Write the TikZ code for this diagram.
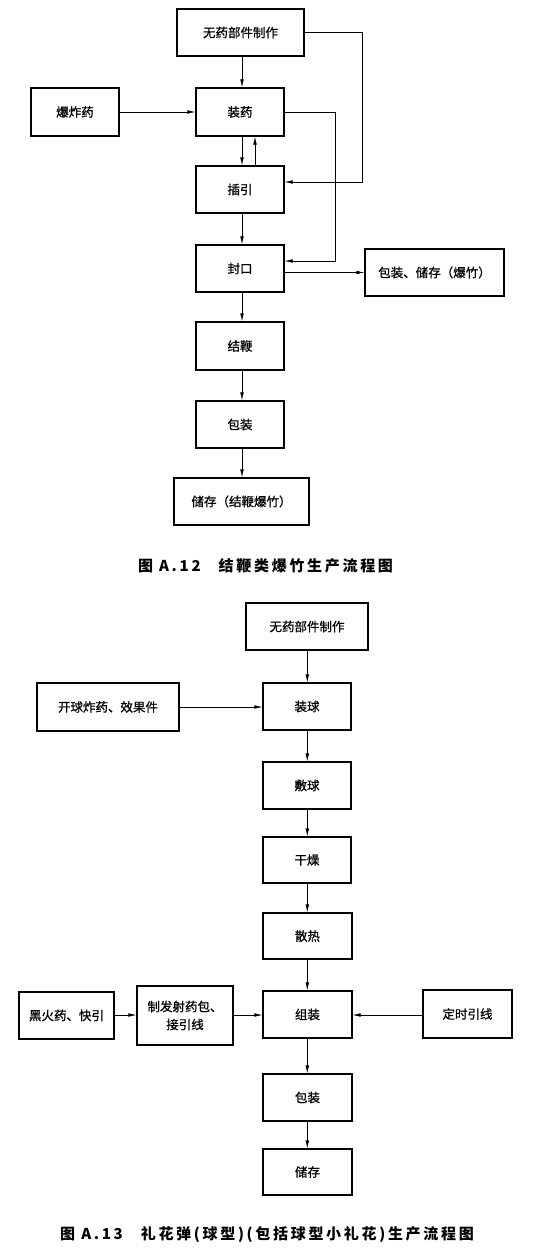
\documentclass[tikz,border=0pt]{standalone}
\usepackage{fontspec}
\newfontfamily\cjk[FakeBold=0.8]{Noto Sans CJK SC}
\newfontfamily\cjkcap[LetterSpace=18]{Noto Sans CJK SC}
\usetikzlibrary{arrows.meta,calc}
\begin{document}
\begin{tikzpicture}[x=1pt,y=-1pt,
  box/.style={draw,line width=1.1pt,inner sep=0pt,align=center,font=\cjk\fontsize{12.5}{18}\selectfont},
  arr/.style={line width=0.6pt,-{Latex[length=8pt,width=3.6pt]}},
  captext/.style={inner sep=0pt,font=\cjkcap\bfseries\fontsize{15}{18}\selectfont}]
\useasboundingbox (0,0) rectangle (554,1250);
\fill[white] (0,0) rectangle (554,1250);
% ---------- Figure A.12 ----------
\node[box,minimum width=127pt,minimum height=47pt] (t0) at (240.5,32.5) {无药部件制作};
\node[box,minimum width=88pt,minimum height=48pt] (t1) at (75,112) {爆炸药};
\node[box,minimum width=88pt,minimum height=48pt] (t2) at (240,112) {装药};
\node[box,minimum width=88pt,minimum height=47pt] (t3) at (240,189.5) {插引};
\node[box,minimum width=88pt,minimum height=47pt] (t4) at (240,268.5) {封口};
\node[box,minimum width=139pt,minimum height=47pt] (t5) at (434.5,272.5) {包装、储存（爆竹）};
\node[box,minimum width=88pt,minimum height=48pt] (t6) at (240,346) {结鞭};
\node[box,minimum width=88pt,minimum height=47pt] (t7) at (240,424.5) {包装};
\node[box,minimum width=135pt,minimum height=47pt] (t8) at (241.5,501.5) {储存（结鞭爆竹）};
\node[captext] (c1) at (265.5,566) {图 A.12\hspace{1.2em}结鞭类爆竹生产流程图};
\coordinate (r1) at (362,0);
\coordinate (r2) at (335,0);
\coordinate (t3e) at ([yshift=7.5pt]t3.east);
\coordinate (t4e) at ([yshift=7.5pt]t4.east);
\coordinate (col) at (242,0);
\coordinate (up) at (255,0);
\draw[arr] (col |- t0.south) -- (col |- t2.north);
\draw[arr] (t1.east) -- (t2.west);
\draw[arr] (col |- t2.south) -- (col |- t3.north);
\draw[arr] (up |- t3.north) -- (up |- t2.south);
\draw[arr] (col |- t3.south) -- (col |- t4.north);
\draw[arr] (col |- t4.south) -- (col |- t6.north);
\draw[arr] (col |- t6.south) -- (col |- t7.north);
\draw[arr] (col |- t7.south) -- (col |- t8.north);
\draw[arr] (t0.east) -- (t0.east -| r1) -- (r1 |- t3e) -- (t3e);
\draw[arr] (t2.east) -- (t2.east -| r2) -- (r2 |- t4e) -- (t4e);
\draw[arr] (t4.east |- t5.west) -- (t5.west);
% ---------- Figure A.13 ----------
\node[box,minimum width=122pt,minimum height=47pt] (b0) at (307,626.5) {无药部件制作};
\node[box,minimum width=142pt,minimum height=48pt] (b1) at (108,707) {开球炸药、效果件};
\node[box,minimum width=88pt,minimum height=47pt] (b2) at (307,706.5) {装球};
\node[box,minimum width=88pt,minimum height=47pt] (b3) at (307,785.5) {敷球};
\node[box,minimum width=88pt,minimum height=46pt] (b4) at (307,860) {干燥};
\node[box,minimum width=89pt,minimum height=46pt] (b5) at (307.5,936) {散热};
\node[box,minimum width=89pt,minimum height=47pt] (b6) at (307.5,1014.5) {组装};
\node[box,minimum width=95pt,minimum height=47pt] (b7) at (66.5,1015.5) {黑火药、快引};
\node[box,minimum width=96pt,minimum height=59pt] (b8) at (185,1015.5) {制发射药包、\\接引线};
\node[box,minimum width=89pt,minimum height=48pt] (b9) at (467.5,1014) {定时引线};
\node[box,minimum width=89pt,minimum height=47pt] (b10) at (307.5,1097.5) {包装};
\node[box,minimum width=89pt,minimum height=46pt] (b11) at (307.5,1172) {储存};
\node[captext] (c2) at (267,1235) {图 A.13\hspace{1.2em}礼花弹(球型)(包括球型小礼花)生产流程图};
\coordinate (col2) at (307.3,0);
\coordinate (hy) at (0,1015);
\draw[arr] (col2 |- b0.south) -- (col2 |- b2.north);
\draw[arr] (b1.east) -- (b1.east -| b2.west);
\draw[arr] (col2 |- b2.south) -- (col2 |- b3.north);
\draw[arr] (col2 |- b3.south) -- (col2 |- b4.north);
\draw[arr] (col2 |- b4.south) -- (col2 |- b5.north);
\draw[arr] (col2 |- b5.south) -- (col2 |- b6.north);
\draw[arr] (col2 |- b6.south) -- (col2 |- b10.north);
\draw[arr] (col2 |- b10.south) -- (col2 |- b11.north);
\draw[arr] (b7.east |- hy) -- (b8.west |- hy);
\draw[arr] (b8.east |- hy) -- (b6.west |- hy);
\draw[arr] (b9.west |- hy) -- (b6.east |- hy);
\end{tikzpicture}
\end{document}
